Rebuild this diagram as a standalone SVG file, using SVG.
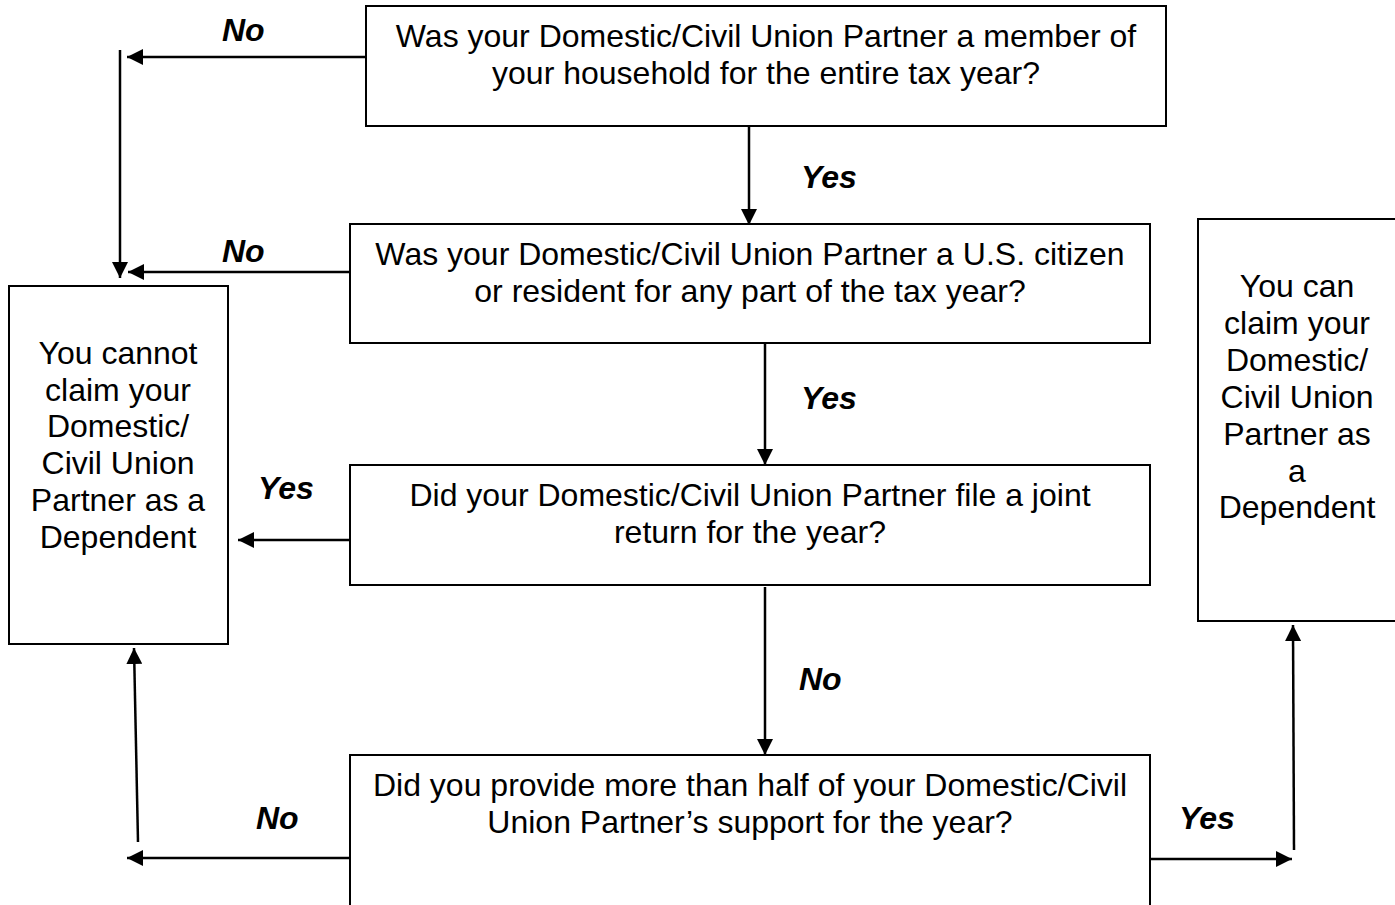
<svg xmlns="http://www.w3.org/2000/svg" width="1395" height="905" viewBox="0 0 1395 905">
<style>
.box{fill:#fff;stroke:#000;stroke-width:2}
.t{font-family:"Liberation Sans",Arial,sans-serif;font-size:32px;fill:#000;text-anchor:middle}
.lbl{font-family:"Liberation Sans",Arial,sans-serif;font-size:32px;font-weight:bold;font-style:italic;fill:#000}
.c{stroke:#000;stroke-width:2.5;fill:none}
</style>
<defs>
<marker id="ah" viewBox="0 0 10 10" refX="10" refY="5" markerWidth="16" markerHeight="16" markerUnits="userSpaceOnUse" orient="auto">
<path d="M0,0 L10,5 L0,10 z" fill="#000"/>
</marker>
</defs>
<rect width="1395" height="905" fill="#fff"/>
<g id="q1">
<rect class="box" x="366" y="6" width="800" height="120"/>
<text class="t" x="766" y="47">Was your Domestic/Civil Union Partner a member of</text>
<text class="t" x="766" y="84">your household for the entire tax year?</text>
</g>
<g id="q2">
<rect class="box" x="350" y="224" width="800" height="119"/>
<text class="t" x="750" y="265">Was your Domestic/Civil Union Partner a U.S. citizen</text>
<text class="t" x="750" y="302">or resident for any part of the tax year?</text>
</g>
<g id="q3">
<rect class="box" x="350" y="465" width="800" height="120"/>
<text class="t" x="750" y="506">Did your Domestic/Civil Union Partner file a joint</text>
<text class="t" x="750" y="543">return for the year?</text>
</g>
<g id="q4">
<rect class="box" x="350" y="755" width="800" height="160"/>
<text class="t" x="750" y="796">Did you provide more than half of your Domestic/Civil</text>
<text class="t" x="750" y="833">Union Partner’s support for the year?</text>
</g>
<g id="cannot">
<rect class="box" x="9" y="286" width="219" height="358"/>
<text class="t" x="118" y="364">You cannot</text>
<text class="t" x="118" y="401">claim your</text>
<text class="t" x="118" y="437">Domestic/</text>
<text class="t" x="118" y="474">Civil Union</text>
<text class="t" x="118" y="511">Partner as a</text>
<text class="t" x="118" y="548">Dependent</text>
</g>
<g id="can">
<rect class="box" x="1198" y="219" width="200" height="402"/>
<text class="t" x="1297" y="297">You can</text>
<text class="t" x="1297" y="334">claim your</text>
<text class="t" x="1297" y="371">Domestic/</text>
<text class="t" x="1297" y="408">Civil Union</text>
<text class="t" x="1297" y="445">Partner as</text>
<text class="t" x="1297" y="482">a</text>
<text class="t" x="1297" y="518">Dependent</text>
</g>
<g id="connectors">
<line class="c" x1="366" y1="57" x2="127" y2="57" marker-end="url(#ah)"/>
<line class="c" x1="120" y1="50" x2="120" y2="278" marker-end="url(#ah)"/>
<line class="c" x1="350" y1="272" x2="128" y2="272" marker-end="url(#ah)"/>
<line class="c" x1="749" y1="126" x2="749" y2="225" marker-end="url(#ah)"/>
<line class="c" x1="765" y1="343" x2="765" y2="465" marker-end="url(#ah)"/>
<line class="c" x1="350" y1="540" x2="238" y2="540" marker-end="url(#ah)"/>
<line class="c" x1="765" y1="587" x2="765" y2="755" marker-end="url(#ah)"/>
<line class="c" x1="350" y1="858" x2="127" y2="858" marker-end="url(#ah)"/>
<line class="c" x1="138" y1="842" x2="134" y2="648" marker-end="url(#ah)"/>
<line class="c" x1="1150" y1="859" x2="1292" y2="859" marker-end="url(#ah)"/>
<line class="c" x1="1294" y1="850" x2="1293" y2="625" marker-end="url(#ah)"/>
</g>
<g id="labels">
<text class="lbl" x="222" y="41">No</text>
<text class="lbl" x="801" y="188">Yes</text>
<text class="lbl" x="222" y="262">No</text>
<text class="lbl" x="801" y="409">Yes</text>
<text class="lbl" x="258" y="499">Yes</text>
<text class="lbl" x="799" y="690">No</text>
<text class="lbl" x="256" y="829">No</text>
<text class="lbl" x="1179" y="829">Yes</text>
</g>
</svg>
